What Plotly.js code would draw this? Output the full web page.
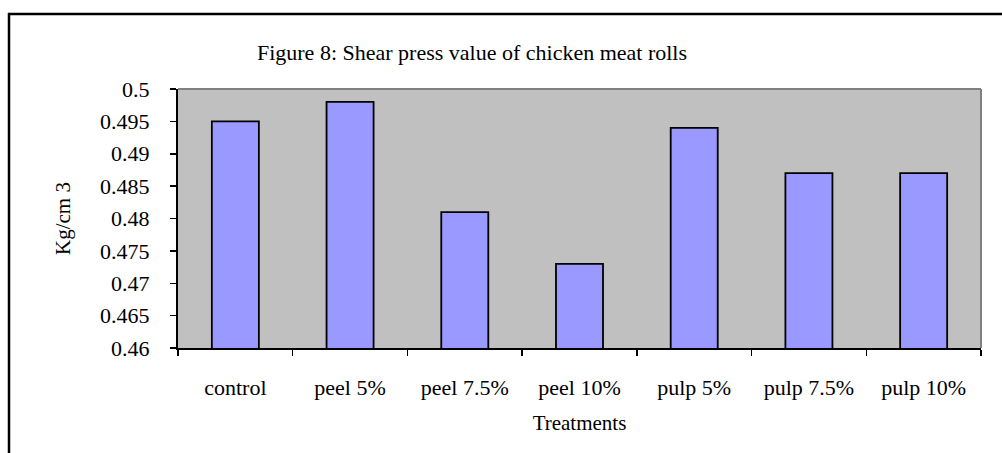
<!DOCTYPE html>
<html>
<head>
<meta charset="utf-8">
<script src="https://cdn.plot.ly/plotly-3.0.1.min.js"></script>
<style>
html,body{margin:0;padding:0;background:#fff;}
#chart{width:1002px;height:453px;}
</style>
</head>
<body>
<div id="chart"></div>
<script>
const categories = ["control", "peel 5%", "peel 7.5%", "peel 10%", "pulp 5%", "pulp 7.5%", "pulp 10%"];
const values = [0.495, 0.498, 0.481, 0.473, 0.494, 0.487, 0.487];
const yTickVals = [0.46, 0.465, 0.47, 0.475, 0.48, 0.485, 0.49, 0.495, 0.5];
const yTickText = ["0.46", "0.465", "0.47", "0.475", "0.48", "0.485", "0.49", "0.495", "0.5"];

const FONT = "Liberation Serif, Times New Roman, serif";
const L = 178, R = 981, T = 89, B = 348, W = 1002, H = 453;
const pw = R - L, ph = B - T;
const px = x => (x - L) / pw;
const py = y => (B - y) / ph;

const trace = {
  type: "bar",
  x: categories,
  y: values,
  marker: {color: "#9999FF", line: {color: "#000000", width: 1.8}},
  hoverinfo: "x+y"
};

const layout = {
  width: W, height: H,
  margin: {l: L, r: W - R, t: T, b: H - B, pad: 0},
  paper_bgcolor: "#ffffff",
  plot_bgcolor: "#C0C0C0",
  showlegend: false,
  bargap: 0.59,
  font: {family: FONT, color: "#000000", size: 22},
  title: {text: "Figure 8: Shear press value of chicken meat rolls", font: {family: FONT, size: 22, color: "#000"}, x: 472 / W, xanchor: "center", y: 1 - 52 / H, yanchor: "middle"},
  xaxis: {
    type: "category",
    showgrid: false, zeroline: false,
    showline: true, linecolor: "#000", linewidth: 2,
    ticks: "outside", tickson: "boundaries", ticklen: 6, tickwidth: 1.5, tickcolor: "#000",
    tickfont: {family: FONT, size: 22, color: "#000"},
    ticklabelstandoff: 19,
    title: {text: "Treatments", font: {family: FONT, size: 21, color: "#000"}, standoff: 16}
  },
  yaxis: {
    range: [0.46, 0.5],
    tickvals: yTickVals, ticktext: yTickText,
    showgrid: false, zeroline: false,
    showline: true, linecolor: "#000", linewidth: 2,
    ticks: "outside", ticklen: 6, tickwidth: 1.5, tickcolor: "#000",
    tickfont: {family: FONT, size: 22, color: "#000"},
    ticklabelstandoff: 16,
    title: {text: "Kg/cm 3", font: {family: FONT, size: 21, color: "#000"}, standoff: 24}
  },
  shapes: [
    {type: "line", xref: "paper", yref: "paper", x0: 0, x1: 1, y0: 1, y1: 1, line: {color: "#808080", width: 2}},
    {type: "line", xref: "paper", yref: "paper", x0: 1, x1: 1, y0: 0, y1: 1, line: {color: "#808080", width: 2}},
    {type: "line", xref: "paper", yref: "paper", x0: px(9), x1: px(9), y0: py(13), y1: py(460), line: {color: "#000", width: 2.5}},
    {type: "line", xref: "paper", yref: "paper", x0: px(8), x1: px(1010), y0: py(14), y1: py(14), line: {color: "#000", width: 2.5}}
  ]
};

Plotly.newPlot("chart", [trace], layout, {displayModeBar: false, staticPlot: true});
</script>
</body>
</html>
